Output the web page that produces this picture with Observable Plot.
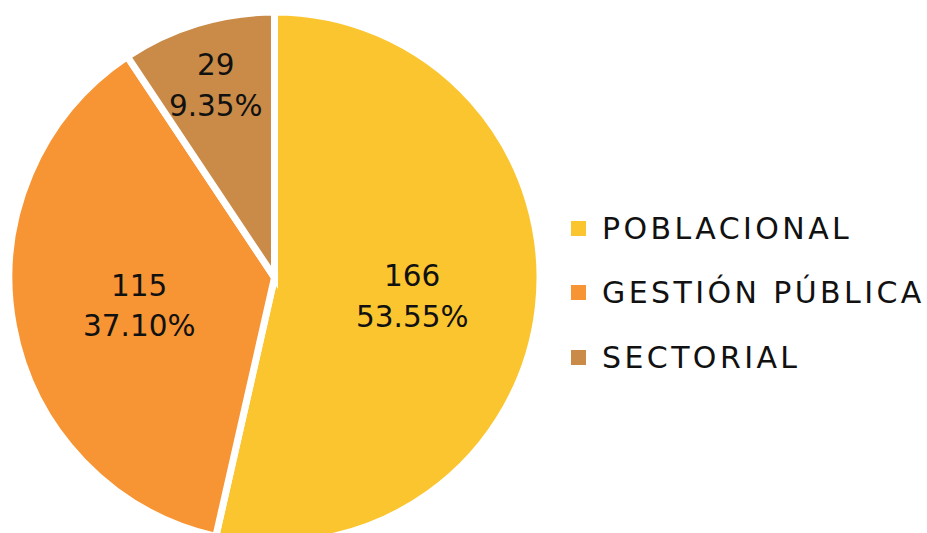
<!DOCTYPE html>
<html>
<head>
<meta charset="utf-8">
<script src="https://cdn.jsdelivr.net/npm/d3@7"></script>
<script src="https://cdn.jsdelivr.net/npm/@observablehq/plot@0.6"></script>
<style>
  html, body { margin: 0; padding: 0; background: #fff; }
  #wrap { position: relative; width: 927px; height: 533px; overflow: hidden; }
  #legend { position: absolute; left: 571px; top: 196px; font-family: "DejaVu Sans", sans-serif; font-size: 30px; letter-spacing: 3.4px; color: #111; }
  #legend .row { display: flex; align-items: center; height: 64.5px; margin-top: 0; white-space: nowrap; }
  #legend .sw { width: 15px; height: 15px; margin-right: 16px; flex: none; }
</style>
</head>
<body>
<div id="wrap"></div>
<script>
// ---- data ----
const categories = ["POBLACIONAL", "GESTIÓN PÚBLICA", "SECTORIAL"];
const counts = [166, 115, 29];
const percents = ["53.55%", "37.10%", "9.35%"];
const colors = ["#FBC52F", "#F79433", "#C98B47"];

const data = categories.map((c, i) => ({category: c, count: counts[i], pct: percents[i]}));

// layout
const W = 927, H = 533;
const CX = 274.5, CY = 277.5, R = 265.5;

const color = Plot.scale({color: {type: "ordinal", domain: categories, range: colors}});

const arcs = d3.pie().sort(null).value(d => d.count)(data);
const total = d3.sum(counts);

// label anchors (unit-circle coordinates), larger radius for small slices
const labels = arcs.map(a => {
  const mid = (a.startAngle + a.endAngle) / 2;
  const k = a.data.count / total < 0.15 ? 0.77 : 0.52;
  return {x: Math.sin(mid) * k, y: Math.cos(mid) * k, text: `${a.data.count}\n${a.data.pct}`};
});

const slices = (index, scales) => {
  const cx = scales.x(0), cy = scales.y(0), r = scales.x(1) - scales.x(0);
  const arc = d3.arc().innerRadius(0).outerRadius(r);
  const g = d3.create("svg:g").attr("transform", `translate(${cx},${cy})`);
  g.selectAll("path").data(arcs).join("path")
    .attr("d", arc)
    .attr("fill", d => color.apply(d.data.category))
    .attr("stroke", "#fff")
    .attr("stroke-width", 7)
    .attr("stroke-linejoin", "miter");
  return g.node();
};

const chart = Plot.plot({
  width: W,
  height: H,
  margin: 0,
  x: {domain: [-1, 1], range: [CX - R, CX + R], axis: null},
  y: {domain: [-1, 1], range: [CY + R, CY - R], axis: null},
  style: {background: "#fff"},
  marks: [
    slices,
    Plot.text(labels, {
      x: "x", y: "y", text: "text",
      fontSize: 29.5, lineHeight: 1.38,
      fill: "#111",
      fontFamily: "DejaVu Sans"
    })
  ]
});

const wrap = document.getElementById("wrap");
wrap.appendChild(chart);

const legend = document.createElement("div");
legend.id = "legend";
categories.forEach(c => {
  const row = document.createElement("div");
  row.className = "row";
  const sw = document.createElement("span");
  sw.className = "sw";
  sw.style.background = color.apply(c);
  const t = document.createElement("span");
  t.textContent = c;
  row.appendChild(sw);
  row.appendChild(t);
  legend.appendChild(row);
});
wrap.appendChild(legend);
</script>
</body>
</html>
